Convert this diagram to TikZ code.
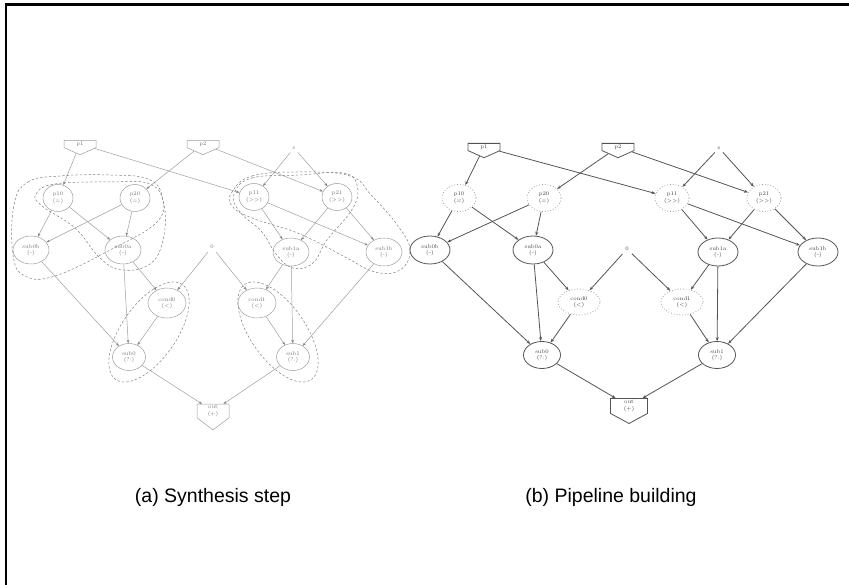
\documentclass[tikz,border=0pt]{standalone}
\usepackage{fontspec}
\newfontfamily\capfont{Liberation Sans}
\usetikzlibrary{shapes.geometric,shapes.symbols,arrows.meta}
\definecolor{lline}{gray}{0.62}
\definecolor{ltext}{gray}{0.45}
\definecolor{dline}{gray}{0.33}
\definecolor{dtext}{gray}{0.25}
\definecolor{dotc}{gray}{0.62}
\definecolor{clus}{gray}{0.5}
\newcommand\nlab{\fontsize{5.5}{6.3}\selectfont}
\newcommand\shr{(>\kern0pt>)}
\begin{document}
\begin{tikzpicture}[x=1pt,y=-1pt,
  every node/.style={font=\nlab, align=center},
  ahouse/.style={signal, signal to=south, signal from=nowhere, draw=lline, line width=0.5pt, text=ltext,
    minimum width=32pt, minimum height=9pt, inner sep=0.5pt, signal pointer angle=132},
  aout/.style={ahouse, minimum height=18pt, signal pointer angle=106},
  aplain/.style={text=ltext, inner sep=3pt},
  aell/.style={ellipse, draw=lline, line width=0.5pt, text=ltext, inner sep=0pt},
  aP/.style={aell, minimum width=30pt, minimum height=27pt},
  aS/.style={aell, minimum width=36pt, minimum height=28pt},
  aC/.style={aell, minimum width=38pt, minimum height=30pt},
  aM/.style={aell, minimum width=33pt, minimum height=27pt},
  aedge/.style={draw=lline, line width=0.5pt, -{Stealth[length=3.5pt,width=2.6pt,color=gray]}},
  clusterline/.style={draw=clus, line width=0.5pt, dash pattern=on 2.4pt off 2pt},
  bhouse/.style={signal, signal to=south, signal from=nowhere, draw=dline, line width=0.8pt, text=dtext,
    minimum width=32pt, minimum height=9pt, inner sep=0.5pt, signal pointer angle=132},
  bout/.style={bhouse, minimum width=37pt, minimum height=18pt, signal pointer angle=123},
  bplain/.style={text=dtext, inner sep=3pt},
  bell/.style={ellipse, draw=dline, line width=0.8pt, text=dtext, inner sep=0pt},
  bdot/.style={ellipse, draw=dotc, line width=0.8pt, dotted, text=dtext, inner sep=0pt},
  bP/.style={bdot, minimum width=34pt, minimum height=27pt},
  bS/.style={bell, minimum width=40pt, minimum height=28pt},
  bC/.style={bdot, minimum width=42pt, minimum height=26pt},
  bM/.style={bell, minimum width=37pt, minimum height=27pt},
  bedge/.style={draw=dline, line width=0.8pt, -{Stealth[length=4pt,width=3pt]}},
  caption/.style={font=\capfont\fontsize{19.5}{23}\selectfont, text=black}
]
\useasboundingbox (0,0) rectangle (849,585);
\draw[line width=2.4pt, line join=miter] (6.2,585) -- (6.2,4.5) -- (849,4.5);

% ---------- (a) Synthesis step ----------
\node[ahouse] (ap1) at (80,144) {p1};
\node[ahouse] (ap2) at (203,144) {p2};
\node[aplain] (as) at (294,148) {s};
\node[aP] (ap10) at (58,198) {p10\\(=)};
\node[aP] (ap20) at (135,198) {p20\\(=)};
\node[aP] (ap11) at (254,197) {p11\\\shr};
\node[aP] (ap21) at (337,197) {p21\\\shr};
\node[aS] (asub0b) at (31,250) {sub0b\\(-)};
\node[aS] (asub0a) at (123,250) {sub0a\\(-)};
\node[aplain] (azero) at (212,247) {0};
\node[aS] (asub1a) at (291,252) {sub1a\\(-)};
\node[aS] (asub1b) at (384,252) {sub1b\\(-)};
\node[aC] (acond0) at (167,303) {cond0\\(<)};
\node[aC] (acond1) at (257,303) {cond1\\(<)};
\node[aM] (asub0) at (129,357) {sub0\\(?:)};
\node[aM] (asub1) at (293,357) {sub1\\(?:)};
\node[aout] (aoutn) at (213,411) {out\\(+)};

\foreach \u/\v in {p1/p10,p1/p11,p2/p20,p2/p21,s/p11,s/p21,p10/sub0b,p10/sub0a,p20/sub0b,p20/sub0a,
  p11/sub1a,p11/sub1b,p21/sub1a,p21/sub1b,sub0a/cond0,zero/cond0,zero/cond1,sub1a/cond1,
  sub0b/sub0,sub0a/sub0,cond0/sub0,cond1/sub1,sub1a/sub1,sub1b/sub1,sub0/outn,sub1/outn}
  \draw[aedge] (a\u) -- (a\v);

% clusters
\draw[clusterline] plot[smooth cycle, tension=0.7] coordinates {(14,205) (28,182) (60,176) (110,175) (148,179) (162,196) (157,222) (110,250) (55,276) (25,276) (13,255)};
\draw[clusterline] plot[smooth cycle, tension=0.7] coordinates {(36,194) (55,184) (110,182) (150,184) (164,205) (163,240) (150,264) (122,270) (100,258) (75,228) (42,206)};
\draw[clusterline] plot[smooth cycle, tension=0.7] coordinates {(232,192) (252,176) (300,172) (350,176) (372,196) (398,226) (410,250) (400,270) (375,272) (345,257) (300,234) (252,218) (232,206)};
\draw[clusterline] plot[smooth cycle, tension=0.7] coordinates {(234,194) (252,178) (300,175) (343,173) (357,185) (353,208) (327,240) (313,263) (293,268) (276,254) (262,232) (240,212)};
\node[ellipse, clusterline, minimum width=116pt, minimum height=55pt, rotate=55] (acl0) at (149,332) {};
\node[ellipse, clusterline, minimum width=116pt, minimum height=55pt, rotate=-55] (acl1) at (278,332) {};

% ---------- (b) Pipeline building ----------
\node[bhouse] (bp1) at (484,147) {p1};
\node[bhouse] (bp2) at (618,147) {p2};
\node[bplain] (bs) at (719,148) {s};
\node[bP] (bp10) at (459,198) {p10\\(=)};
\node[bP] (bp20) at (544,198) {p20\\(=)};
\node[bP] (bp11) at (672,198) {p11\\\shr};
\node[bP] (bp21) at (764,198) {p21\\\shr};
\node[bS] (bsub0b) at (430,250) {sub0b\\(-)};
\node[bS] (bsub0a) at (533,250) {sub0a\\(-)};
\node[bplain] (bzero) at (627,249) {0};
\node[bS] (bsub1a) at (718,252) {sub1a\\(-)};
\node[bS] (bsub1b) at (818,252) {sub1b\\(-)};
\node[bC] (bcond0) at (579,302) {cond0\\(<)};
\node[bC] (bcond1) at (682,302) {cond1\\(<)};
\node[bM] (bsub0) at (542,355) {sub0\\(?:)};
\node[bM] (bsub1) at (717,355) {sub1\\(?:)};
\node[bout] (boutn) at (629,406) {out\\(+)};

\foreach \u/\v in {p1/p10,p1/p11,p2/p20,p2/p21,s/p11,s/p21,p10/sub0b,p10/sub0a,p20/sub0b,p20/sub0a,
  p11/sub1a,p11/sub1b,p21/sub1a,p21/sub1b,sub0a/cond0,zero/cond0,zero/cond1,sub1a/cond1,
  sub0b/sub0,sub0a/sub0,cond0/sub0,cond1/sub1,sub1a/sub1,sub1b/sub1,sub0/outn,sub1/outn}
  \draw[bedge] (b\u) -- (b\v);

% captions
\node[caption] (capa) at (213,497) {(a) Synthesis step};
\node[caption] (capb) at (611,497) {(b) Pipeline building};
\end{tikzpicture}
\end{document}
